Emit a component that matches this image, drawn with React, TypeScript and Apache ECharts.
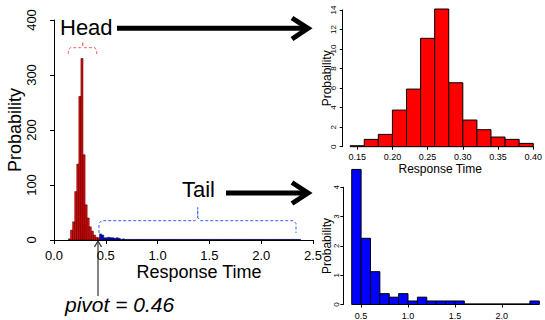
import React, { useEffect, useRef } from "react";
import * as echarts from "echarts";

// ---------- data ----------
// Overview histogram (counts per 0.02 bin)
const mainBinWidth = 0.02;
const mainHeadStart = 0.14;
const mainHeadCounts = [2, 18, 33, 88, 138, 261, 330, 155, 64, 40, 24, 16, 9, 5, 4];
const mainTailStart = 0.44;
const mainTailCounts = [
  11, 9, 4, 4, 5, 4, 4, 3, 4, 3,
  1, 2, 1, 0, 1, 0, 1, 0, 0, 1,
  0, 1, 1, 1, 0, 1, 0, 0, 0, 0,
  1, 0, 0, 0, 0, 0, 1, 0, 0, 0,
  0, 0, 1, 0, 1, 0, 1, 0, 1, 0,
  1, 0, 0, 0, 0, 0, 0, 0, 0, 0,
  0, 0, 0, 0, 0, 0, 0, 0, 0, 0,
  0, 0, 0, 0, 0, 0, 0, 0, 0, 0,
  0, 0, 0, 0, 0, 0, 0, 0, 0, 0,
  0, 0, 0, 0, 0, 0, 1,
];
const mainXTicks = { min: 0, max: 2.5, interval: 0.5 };
const mainYTicks = { min: 0, max: 400, interval: 100 };

// Head zoom histogram (density per 0.02 bin)
const headBinWidth = 0.02;
const headStart = 0.14;
const headDensity = [0.1, 0.75, 1.26, 3.75, 5.9, 11.1, 14.1, 6.55, 2.73, 1.74, 0.99, 0.75, 0.34];
const headXTicks = { min: 0.15, max: 0.4, interval: 0.05 };
const headYTicks = { min: 0, max: 14, interval: 2 };

// Tail zoom histogram (density per 0.1 bin)
const tailBinWidth = 0.1;
const tailStart = 0.4;
const tailDensity = [4.61, 2.26, 1.12, 0.37, 0.25, 0.37, 0.12, 0.25, 0.12, 0.12, 0.12, 0.12, 0, 0, 0, 0, 0, 0, 0, 0.12];
const tailXTicks = { min: 0.5, max: 2.0, interval: 0.5 };
const tailYTicks = { min: 0, max: 4, interval: 1 };

const labels = {
  yName: "Probability",
  xName: "Response Time",
  head: "Head",
  tail: "Tail",
  pivot: "pivot = 0.46",
};

const FONT = "'Liberation Sans', Arial, Helvetica, sans-serif";

function bins(start: number, width: number, values: number[]) {
  return values.map((v, i) => [start + i * width, start + (i + 1) * width, v]);
}

function histRender(fill: string, lineWidth: number) {
  return (params: any, api: any) => {
    const x0 = api.value(0);
    const x1 = api.value(1);
    const v = api.value(2);
    const b = api.coord([x0, 0]);
    const t = api.coord([x1, v]);
    const h = Math.max(b[1] - t[1], 0.6);
    return {
      type: "rect",
      shape: { x: b[0], y: b[1] - h, width: t[0] - b[0], height: h },
      style: { fill, stroke: "#000", lineWidth },
    };
  };
}

function xAxis(gridIndex: number, t: any, offset: number, fontSize: number, digits: number, tick: number, margin: number, name?: string, nameOpts?: any) {
  return {
    type: "value",
    gridIndex,
    min: t.min,
    max: t.max,
    interval: t.interval,
    offset,
    axisLine: { show: true, lineStyle: { color: "#000", width: 1 } },
    axisTick: { show: true, length: tick, lineStyle: { color: "#000", width: 1 } },
    axisLabel: { fontSize, fontFamily: FONT, color: "#000", margin, formatter: (v: number) => v.toFixed(digits) },
    splitLine: { show: false },
    name: name || "",
    nameLocation: "middle",
    nameMoveOverlap: false,
    ...(nameOpts || {}),
  };
}

function yAxis(gridIndex: number, t: any, offset: number, fontSize: number, tick: number, margin: number, name?: string, nameOpts?: any) {
  return {
    type: "value",
    gridIndex,
    min: t.min,
    max: t.max,
    interval: t.interval,
    offset,
    axisLine: { show: true, lineStyle: { color: "#000", width: 1 } },
    axisTick: { show: true, length: tick, lineStyle: { color: "#000", width: 1 } },
    axisLabel: { fontSize, fontFamily: FONT, color: "#000", margin, rotate: 90 },
    splitLine: { show: false },
    name: name || "",
    nameLocation: "middle",
    nameRotate: 90,
    nameMoveOverlap: false,
    ...(nameOpts || {}),
  };
}

export default function App() {
  const ref = useRef<HTMLDivElement>(null);
  useEffect(() => {
    if (!ref.current) return;
    const chart = echarts.init(ref.current, null, { renderer: "svg" });
    const dash = { lineWidth: 1, lineDash: [3, 2] };
    const option: any = {
      animation: false,
      backgroundColor: "#fff",
      grid: [
        { left: 54, top: 20, width: 259, height: 220 },
        { left: 357.2, top: 10, width: 181.1, height: 136.7 },
        { left: 361.1, top: 187.3, width: 140.7, height: 119.4 },
      ],
      xAxis: [
        xAxis(0, mainXTicks, 8, 13, 1, 4, 1, labels.xName, {
          nameGap: 15,
          nameTextStyle: { fontSize: 18, fontFamily: FONT, color: "#000", padding: [0, 0, 0, 31] },
        }),
        xAxis(1, headXTicks, 6, 9, 2, 3, 0, labels.xName, {
          nameGap: 10,
          nameTextStyle: { fontSize: 12, fontFamily: FONT, color: "#000", padding: [0, 10, 0, 0] },
        }),
        xAxis(2, tailXTicks, 4.5, 9, 1, 3, 2),
      ],
      yAxis: [
        yAxis(0, mainYTicks, 10.7, 13, 4, 5, labels.yName, {
          nameGap: 19,
          nameTextStyle: { fontSize: 18, fontFamily: FONT, color: "#000" },
        }),
        yAxis(1, headYTicks, 14.5, 8, 3, 5, labels.yName, {
          nameGap: 10,
          nameTextStyle: { fontSize: 12, fontFamily: FONT, color: "#000" },
        }),
        yAxis(2, tailYTicks, 17.8, 8, 3, 3, labels.yName, {
          nameGap: 10,
          nameTextStyle: { fontSize: 12, fontFamily: FONT, color: "#000" },
        }),
      ],
      series: [
        {
          type: "custom", xAxisIndex: 0, yAxisIndex: 0, clip: false,
          data: bins(mainHeadStart, mainBinWidth, mainHeadCounts),
          renderItem: histRender("#ff0000", 0.5),
        },
        {
          type: "custom", xAxisIndex: 0, yAxisIndex: 0, clip: false,
          data: bins(mainTailStart, mainBinWidth, mainTailCounts),
          renderItem: histRender("#0000ff", 0.5),
        },
        {
          type: "custom", xAxisIndex: 1, yAxisIndex: 1, clip: false,
          data: bins(headStart, headBinWidth, headDensity),
          renderItem: histRender("#ff0000", 1),
        },
        {
          type: "custom", xAxisIndex: 2, yAxisIndex: 2, clip: false,
          data: bins(tailStart, tailBinWidth, tailDensity),
          renderItem: histRender("#0000ff", 1),
        },
      ],
      graphic: [
        {
          type: "text", left: 60, top: 16,
          style: { text: labels.head, fontSize: 22, fontFamily: FONT, fill: "#000" },
        },
        {
          type: "text", left: 182, top: 178,
          style: { text: labels.tail, fontSize: 22, fontFamily: FONT, fill: "#000" },
        },
        {
          type: "text", left: 65, top: 294,
          style: { text: labels.pivot, fontSize: 21, fontStyle: "italic", fontFamily: FONT, fill: "#000" },
        },
        { type: "polyline", shape: { points: [[117, 28.3], [304, 28.3]] }, style: { stroke: "#000", lineWidth: 5, fill: null } },
        { type: "polyline", shape: { points: [[292, 18], [308, 28.3], [292, 39]] }, style: { stroke: "#000", lineWidth: 5, fill: null } },
        { type: "polyline", shape: { points: [[226, 193], [304, 193]] }, style: { stroke: "#000", lineWidth: 5, fill: null } },
        { type: "polyline", shape: { points: [[292, 182.5], [308, 193], [292, 203.5]] }, style: { stroke: "#000", lineWidth: 5, fill: null } },
        { type: "polyline", shape: { points: [[98, 296], [98, 242]] }, style: { stroke: "#333", lineWidth: 1.2, fill: null } },
        { type: "polyline", shape: { points: [[94.5, 247], [98, 241], [101.5, 247]] }, style: { stroke: "#333", lineWidth: 1.2, fill: null } },
        {
          type: "polyline",
          shape: { points: [[68.3, 54], [68.3, 50], [70.3, 47.7], [80.7, 47.7], [82.7, 45], [82.7, 41.7], [82.7, 45], [84.7, 47.7], [94.7, 47.7], [96.7, 50], [96.7, 54]] },
          style: { stroke: "#ff5a5a", fill: null, ...dash },
        },
        {
          type: "polyline",
          shape: { points: [[99, 233], [99, 223.5], [101.5, 220.7], [195, 220.7], [197.7, 217.5], [197.7, 207.5], [197.7, 217.5], [200.4, 220.7], [293.5, 220.7], [296, 223.5], [296, 233]] },
          style: { stroke: "#3a5cff", fill: null, ...dash },
        },
      ],
    };
    chart.setOption(option);
    return () => chart.dispose();
  }, []);
  return <div ref={ref} style={{ position: "absolute", left: 0, top: 0, width: 545, height: 320 }} />;
}
